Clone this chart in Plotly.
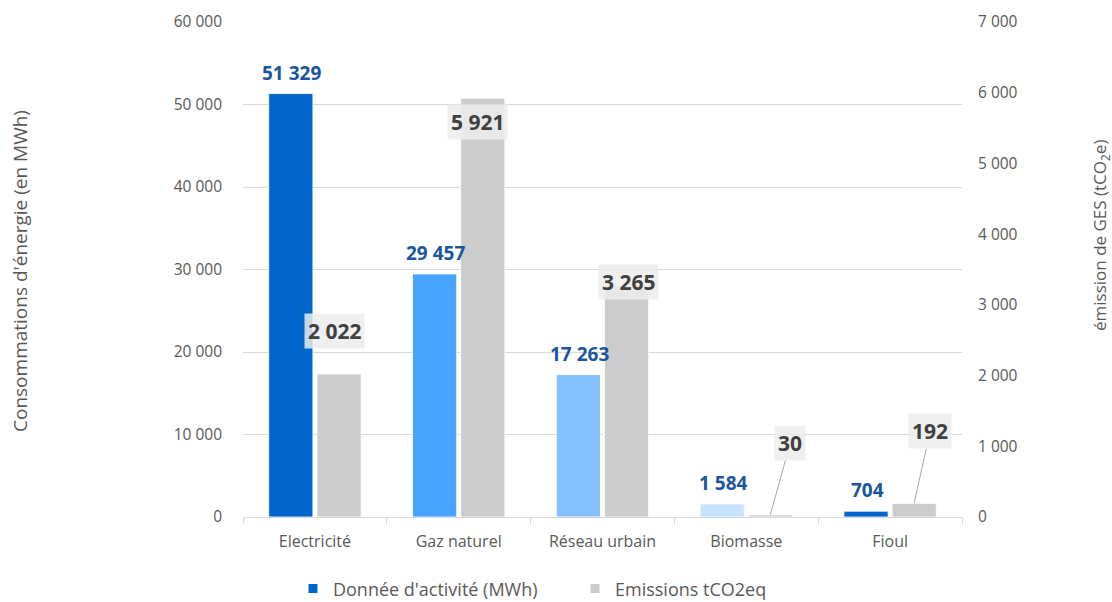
import plotly.graph_objects as go

categories = ["Electricité", "Gaz naturel", "Réseau urbain", "Biomasse", "Fioul"]
activite_mwh = [51329, 29457, 17263, 1584, 704]
emissions_t = [2022, 5921, 3265, 30, 192]
activite_labels = ["51 329", "29 457", "17 263", "1 584", "704"]
emissions_labels = ["2 022", "5 921", "3 265", "30", "192"]
left_ticks = [0, 10000, 20000, 30000, 40000, 50000, 60000]
right_ticks = [0, 1000, 2000, 3000, 4000, 5000, 6000, 7000]

blue_colors = ["#0066CC", "#47A3FF", "#85C1FF", "#C5E2FF", "#0066CC"]
gray = "#CCCCCC"
txt = "#595959"
FONT = "Open Sans"

fig = go.Figure()
fig.add_trace(go.Bar(
    x=categories, y=activite_mwh, yaxis="y", offsetgroup="a",
    marker=dict(color=blue_colors, line=dict(color="white", width=0.8)),
    showlegend=False, hoverinfo="skip"))
fig.add_trace(go.Bar(
    x=categories, y=emissions_t, yaxis="y2", offsetgroup="b",
    marker=dict(color=gray, line=dict(color="white", width=0.8)),
    showlegend=False, hoverinfo="skip"))

# legend entries
fig.add_trace(go.Scatter(x=[None], y=[None], mode="markers", name="Donnée d'activité (MWh)",
                         marker=dict(symbol="square", size=9, color="#0066CC")))
fig.add_trace(go.Scatter(x=[None], y=[None], mode="markers", name="Emissions tCO2eq",
                         marker=dict(symbol="square", size=9, color=gray)))

annotations = []
# blue labels above bars
for c, v, t in zip(categories, activite_mwh, activite_labels):
    annotations.append(dict(x=c, y=v, xref="x", yref="y", text=f"<b>{t}</b>",
                            showarrow=False, xshift=-23, yshift=21,
                            font=dict(family=FONT, size=19, color="#1A56A0")))

# gray labels (boxed)
gray_shift = [(20, 43), (19, -24), (26, 4)]
for (c, v, t), (xs, ys) in zip(list(zip(categories, emissions_t, emissions_labels))[:3], gray_shift):
    annotations.append(dict(x=c, y=v, xref="x", yref="y2", text=f"<b>{t}</b>",
                            showarrow=False, xshift=xs, yshift=ys,
                            bgcolor="rgba(236,236,236,0.85)", borderpad=3,
                            font=dict(family=FONT, size=21, color="#404040")))
arrow_off = [(20, -72), (16, -72)]
for (c, v, t), (ax, ay) in zip(list(zip(categories, emissions_t, emissions_labels))[3:], arrow_off):
    annotations.append(dict(x=c, y=v, xref="x", yref="y2", text=f"<b>{t}</b>",
                            showarrow=True, arrowhead=0, arrowwidth=1, arrowcolor="#A6A6A6",
                            standoff=0, ax=ax, ay=ay, xshift=24,
                            bgcolor="rgba(236,236,236,0.85)", borderpad=3,
                            font=dict(family=FONT, size=21, color="#404040")))

# axis titles
annotations.append(dict(x=0, y=0.497, xref="paper", yref="paper", xanchor="center", yanchor="middle",
                        text="Consommations d'énergie (en MWh)", xshift=-223,
                        showarrow=False, textangle=-90, font=dict(family=FONT, size=19, color=txt)))
annotations.append(dict(x=1, y=(517 - 236) / 495, xref="paper", yref="paper", xanchor="center", yanchor="middle",
                        text="émission de GES (tCO<sub>2</sub>e)", xshift=138,
                        showarrow=False, textangle=-90, font=dict(family=FONT, size=17, color=txt)))

fig.update_layout(
    width=1112, height=602,
    margin=dict(l=243, r=150, t=22, b=85, autoexpand=False),
    paper_bgcolor="white", plot_bgcolor="white",
    font=dict(family=FONT, size=15, color=txt),
    separators=", ",
    barmode="group", bargap=0.33, bargroupgap=0.083,
    xaxis=dict(showgrid=False, showline=True, linecolor="#D9D9D9", linewidth=1,
               ticks="outside", tickson="boundaries", ticklen=6, tickcolor="#D9D9D9",
               ticklabelstandoff=10,
               tickfont=dict(family=FONT, size=16, color=txt), fixedrange=True),
    yaxis=dict(range=[0, 60000], tickvals=left_ticks, tickformat=",d",
               showgrid=True, gridcolor="#D9D9D9", gridwidth=1, zeroline=False,
               showline=False, ticks="", ticklabelstandoff=20,
               tickfont=dict(family=FONT, size=15.5, color=txt)),
    yaxis2=dict(range=[0, 7000], tickvals=right_ticks, tickformat=",d", overlaying="y", side="right",
                showgrid=False, zeroline=False, showline=False, ticks="", ticklabelstandoff=15,
                tickfont=dict(family=FONT, size=15.5, color=txt)),
    legend=dict(orientation="h", x=0.0695, xanchor="left", y=-0.145, yanchor="middle",
                entrywidth=237, font=dict(family=FONT, size=18, color=txt),
                itemclick=False),
    annotations=annotations,
)
fig.write_html("out.html")
